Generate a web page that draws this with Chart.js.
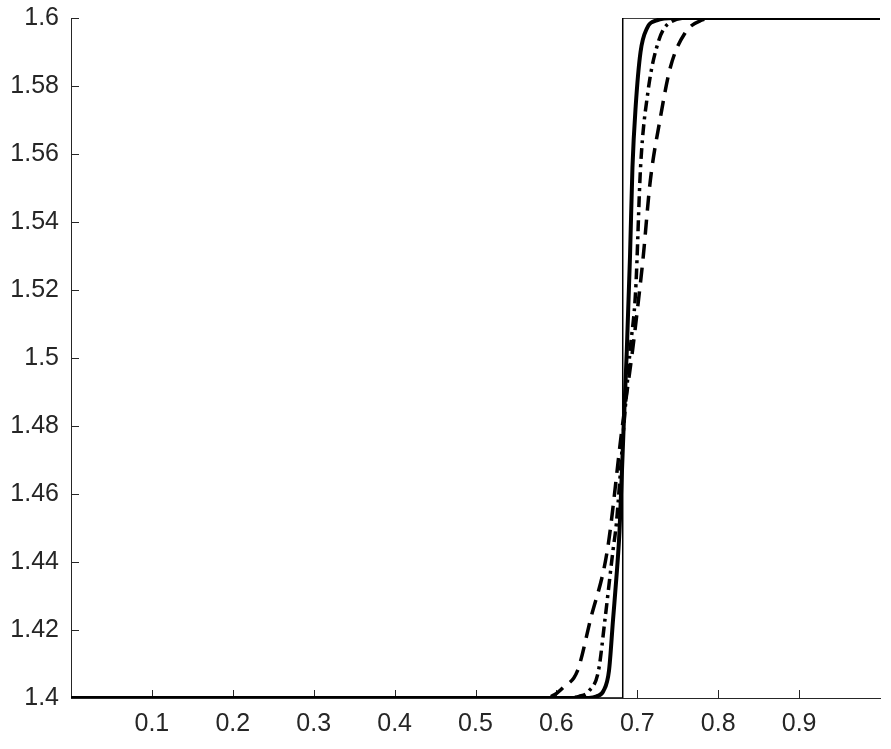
<!DOCTYPE html>
<html>
<head>
<meta charset="utf-8">
<script src="https://cdn.jsdelivr.net/npm/chart.js@4"></script>
<style>
  html, body { margin: 0; padding: 0; background: #fff; }
  canvas { display: block; }
</style>
</head>
<body>
<canvas id="chart" width="891" height="749"></canvas>
<script>
// exact (step) profile
const stepX = [0, 0.682, 0.682, 1];
const stepY = [1.4, 1.4, 1.6, 1.6];

// thick solid curve
const solidX = [0, 0.5, 0.640, 0.650, 0.658, 0.665, 0.670, 0.675, 0.678, 0.683, 0.687, 0.691, 0.694, 0.698, 0.704, 0.712, 0.724, 0.745, 1];
const solidY = [1.4, 1.4, 1.4, 1.4005, 1.402, 1.408, 1.423, 1.438, 1.449, 1.479, 1.502, 1.530, 1.556, 1.574, 1.590, 1.597, 1.5993, 1.6, 1.6];

// dash-dot curve
const dashDotX = [0, 0.5, 0.612, 0.628, 0.640, 0.652, 0.660, 0.670, 0.674, 0.683, 0.691, 0.698, 0.704, 0.713, 0.726, 0.741, 0.765, 1];
const dashDotY = [1.4, 1.4, 1.4, 1.4005, 1.402, 1.408, 1.423, 1.4435, 1.451, 1.479, 1.502, 1.520, 1.556, 1.578, 1.593, 1.5988, 1.6, 1.6];

// dashed curve
const dashedX = [0, 0.5, 0.585, 0.598, 0.608, 0.626, 0.642, 0.663, 0.681, 0.694, 0.700, 0.707, 0.716, 0.728, 0.741, 0.759, 0.778, 0.802, 1];
const dashedY = [1.4, 1.4, 1.4, 1.401, 1.403, 1.408, 1.423, 1.4435, 1.479, 1.502, 1.514, 1.529, 1.552, 1.570, 1.5856, 1.5956, 1.5992, 1.6, 1.6];

const xTicks = [0.1, 0.2, 0.3, 0.4, 0.5, 0.6, 0.7, 0.8, 0.9];

const axisColor = '#262626';
const labelFont = { family: '"Liberation Sans", Arial, sans-serif', size: 25 };
const toPoints = (xs, ys) => xs.map((x, i) => ({ x, y: ys[i] }));

// tick marks drawn inward, like the original figure
const inwardTicks = {
  id: 'inwardTicks',
  beforeDatasetsDraw(chart) {
    const { ctx, chartArea, scales } = chart;
    ctx.save();
    ctx.strokeStyle = axisColor;
    ctx.lineWidth = 1;
    ctx.beginPath();
    scales.x.ticks.forEach(t => {
      const px = Math.round(scales.x.getPixelForValue(t.value)) + 0.5;
      ctx.moveTo(px, chartArea.bottom);
      ctx.lineTo(px, chartArea.bottom - 8);
    });
    scales.y.ticks.forEach(t => {
      const py = Math.round(scales.y.getPixelForValue(t.value)) + 0.5;
      ctx.moveTo(chartArea.left, py);
      ctx.lineTo(chartArea.left + 8, py);
    });
    ctx.stroke();
    ctx.restore();
  }
};

new Chart(document.getElementById('chart'), {
  type: 'line',
  data: {
    datasets: [
      {
        data: toPoints(stepX, stepY),
        borderColor: '#000',
        borderWidth: 1.5,
        tension: 0
      },
      {
        data: toPoints(solidX, solidY),
        borderColor: '#000',
        borderWidth: 4,
        cubicInterpolationMode: 'monotone'
      },
      {
        data: toPoints(dashDotX, dashDotY),
        borderColor: '#000',
        borderWidth: 3.5,
        borderDash: [11, 5, 3, 5],
        cubicInterpolationMode: 'monotone'
      },
      {
        data: toPoints(dashedX, dashedY),
        borderColor: '#000',
        borderWidth: 3.5,
        borderDash: [15, 9],
        cubicInterpolationMode: 'monotone'
      }
    ]
  },
  options: {
    responsive: false,
    animation: false,
    layout: { padding: { top: 18, right: 11, left: 0, bottom: 0 } },
    elements: { point: { radius: 0, hoverRadius: 0 } },
    plugins: { legend: { display: false }, tooltip: { enabled: false } },
    scales: {
      x: {
        type: 'linear',
        min: 0,
        max: 1,
        afterBuildTicks(scale) {
          scale.ticks = xTicks.map(v => ({ value: v }));
        },
        afterFit(scale) {
          scale.height = 51;
          scale.paddingLeft = 0;
          scale.paddingRight = 0;
        },
        grid: { display: false, drawTicks: false },
        border: { display: true, color: axisColor, width: 1 },
        ticks: {
          padding: 11,
          maxRotation: 0,
          color: axisColor,
          font: labelFont,
          callback: v => String(v)
        }
      },
      y: {
        type: 'linear',
        min: 1.4,
        max: 1.6,
        afterFit(scale) {
          scale.width = 71;
          scale.paddingTop = 0;
          scale.paddingBottom = 0;
        },
        grid: { display: false, drawTicks: false },
        border: { display: true, color: axisColor, width: 1 },
        ticks: {
          stepSize: 0.02,
          padding: 12,
          color: axisColor,
          font: labelFont,
          callback: v => String(Number(v.toFixed(2)))
        }
      }
    }
  },
  plugins: [inwardTicks]
});
</script>
</body>
</html>
